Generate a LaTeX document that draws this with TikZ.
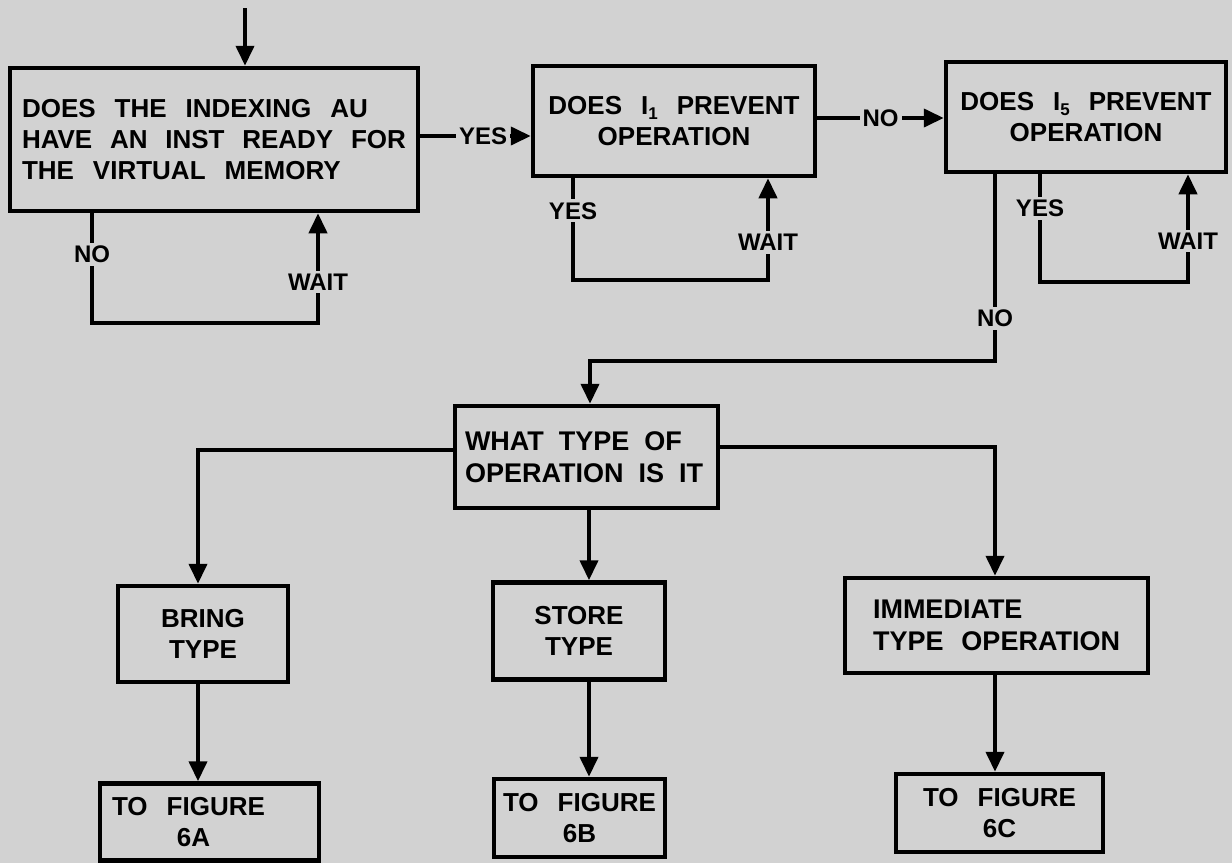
\documentclass[tikz,border=0pt]{standalone}
\usepackage{fontspec}
\setmainfont{Liberation Sans}
\usetikzlibrary{arrows.meta}
\definecolor{bg}{RGB}{210,210,210}
\newcommand\ws{\spaceskip=19pt plus 2pt minus 2pt\xspaceskip=19pt plus 2pt minus 2pt\relax}
\newcommand\wsn{\spaceskip=15pt plus 1pt minus 1pt\xspaceskip=15pt plus 1pt minus 1pt\relax}
\newcommand\bfont{\fontsize{26}{31}\selectfont\bfseries\ws}
\newcommand\bfontL{\fontsize{27}{32}\selectfont\bfseries\ws}
\newcommand\lfont{\fontsize{24}{28}\selectfont\bfseries}
\newcommand\subsc[1]{\raisebox{-0.35ex}{\fontsize{17}{17}\selectfont #1}}
\begin{document}
\begin{tikzpicture}[x=1pt,y=-1pt,
  box/.style={draw=black,line width=4.5pt,inner xsep=4pt,inner ysep=0pt,font=\bfont},
  conn/.style={line width=4pt},
  arr/.style={conn,-{Triangle[length=20pt,width=18pt]}},
  lbl/.style={fill=bg,font=\lfont,inner sep=3pt},
]
\fill[bg] (0,0) rectangle (1232,863);
\useasboundingbox (0,0) rectangle (1232,863);

% boxes
\node[box,minimum width=408pt,minimum height=143pt,inner xsep=12pt,text width=384pt,align=left] (A) at (214,139.5)
  {\ws DOES THE INDEXING AU\\HAVE AN INST READY FOR\\THE VIRTUAL MEMORY};
\node[box,minimum width=282pt,minimum height=110pt,align=center] (B) at (674,121)
  {DOES I\subsc{1} PREVENT\\OPERATION};
\node[box,minimum width=280pt,minimum height=110pt,align=center] (C) at (1086,117)
  {DOES I\subsc{5} PREVENT\\OPERATION};
\node[box,font=\bfontL,minimum width=263pt,minimum height=102pt,inner xsep=10pt,text width=243pt,align=left] (D) at (586.5,457)
  {\wsn WHAT TYPE OF\\OPERATION IS IT};
\node[box,minimum width=170pt,minimum height=96pt,align=center] (E) at (203,634) {BRING\\TYPE};
\node[box,minimum width=172pt,minimum height=97pt,align=center] (F) at (579,631) {STORE\\TYPE};
\node[box,font=\bfontL,minimum width=303pt,minimum height=95pt,inner xsep=28pt,text width=247pt,align=left] (G) at (996.5,625.5)
  {\ws IMMEDIATE\\TYPE OPERATION};
\node[box,minimum width=219pt,minimum height=77pt,align=center] (H) at (209.5,822)
  {TO FIGURE\hspace*{42pt}\\6A\hspace*{32pt}};
\node[box,minimum width=171pt,minimum height=78pt,align=center] (I) at (579.5,818) {TO FIGURE\\6B};
\node[box,minimum width=207pt,minimum height=78pt,align=center] (J) at (999.5,813) {TO FIGURE\\6C};

% coordinates
\coordinate (t0) at (245,8);
\coordinate (yAB) at (0,136);
\coordinate (a1) at (92,323);
\coordinate (a2) at (318,323);
\coordinate (yBC) at (0,118);
\coordinate (b1) at (573,280);
\coordinate (b2) at (768,280);
\coordinate (c1) at (1040,282);
\coordinate (c2) at (1188,282);
\coordinate (c3) at (995,361);
\coordinate (d0) at (590,361);
\coordinate (e0) at (198,450);
\coordinate (g0) at (995,447);
\coordinate (f0) at (589,0);

% connectors
\draw[arr] (t0) -- (t0 |- A.north);
\draw[arr] (A.east |- yAB) -- node[lbl,pos=0.57]{YES} (B.west |- yAB);
\draw[arr] (A.south -| a1) -- node[lbl,pos=0.375]{NO} (a1) -- (a2)
  -- node[lbl,pos=0.375]{WAIT} (A.south -| a2);
\draw[arr] (B.east |- yBC) -- node[lbl]{NO} (C.west |- yBC);
\draw[arr] (B.south -| b1) -- node[lbl,pos=0.32]{YES} (b1) -- (b2)
  -- node[lbl,pos=0.37]{WAIT} (B.south -| b2);
\draw[arr] (C.south -| c1) -- node[lbl,pos=0.32]{YES} (c1) -- (c2)
  -- node[lbl,pos=0.38]{WAIT} (C.south -| c2);
\draw[arr] (C.south -| c3) -- node[lbl,pos=0.77]{NO} (c3) -- (d0) -- (D.north -| d0);
\draw[arr] (D.west |- e0) -- (e0) -- (E.north -| e0);
\draw[arr] (D.east |- g0) -- (g0) -- (G.north -| g0);
\draw[arr] (D.south -| f0) -- (F.north -| f0);
\draw[arr] (E.south -| e0) -- (H.north -| e0);
\draw[arr] (F.south -| f0) -- (I.north -| f0);
\draw[arr] (G.south -| g0) -- (J.north -| g0);
\end{tikzpicture}
\end{document}
